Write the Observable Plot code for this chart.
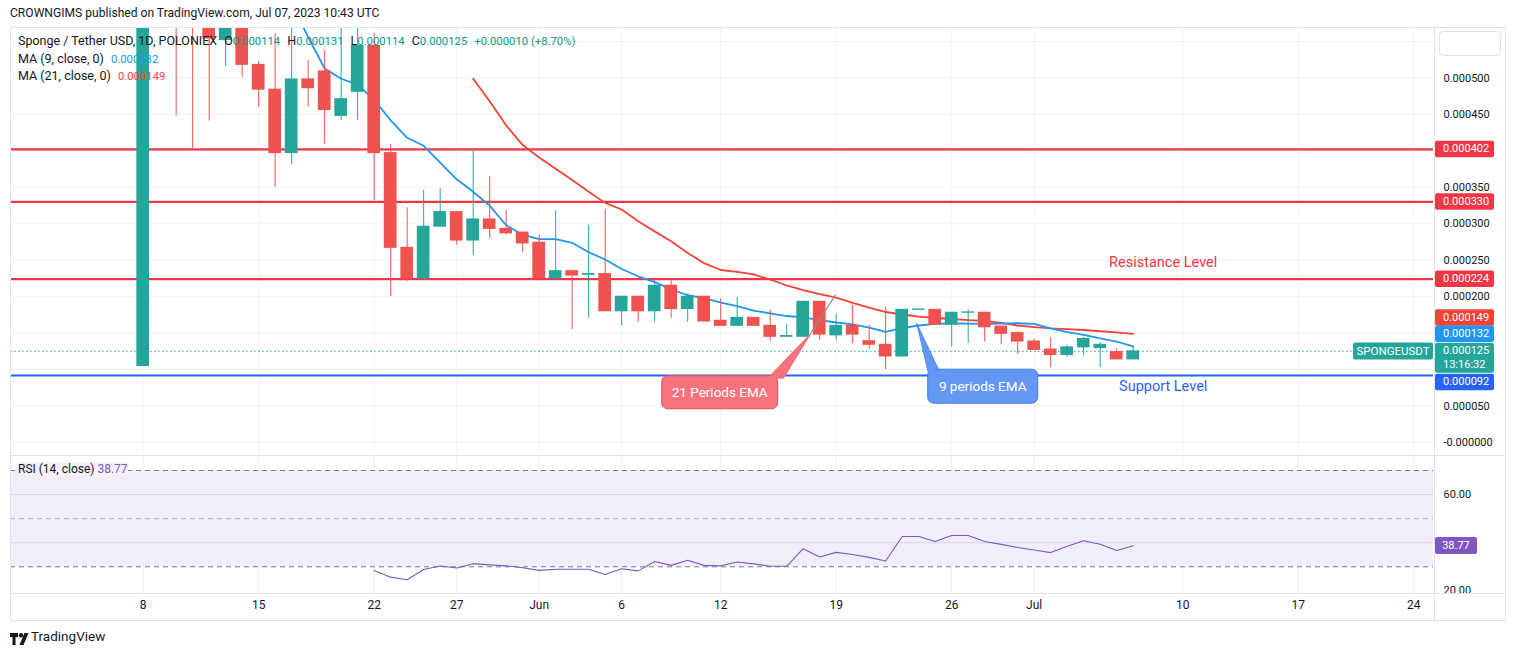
<!DOCTYPE html>
<html>
<head>
<meta charset="utf-8">
<script src="https://cdn.jsdelivr.net/npm/d3@7"></script>
<script src="https://cdn.jsdelivr.net/npm/@observablehq/plot@0.6"></script>
<style>
html,body{margin:0;padding:0;background:#fff;}
#root{position:relative;width:1515px;height:655px;overflow:hidden;font-family:Roboto,"Noto Sans",sans-serif;color:#131722;}
.abs{position:absolute;white-space:pre;}
.gap{display:inline-block;width:7px;}
.num{font-size:11.3px;}
</style>
</head>
<body>
<div id="root"></div>
<script>
// ---------------- DATA ----------------
const dates = [
"2023-05-08","2023-05-09","2023-05-10","2023-05-11","2023-05-12","2023-05-13","2023-05-14","2023-05-15","2023-05-16","2023-05-17",
"2023-05-18","2023-05-19","2023-05-20","2023-05-21","2023-05-22","2023-05-23","2023-05-24","2023-05-25","2023-05-26","2023-05-27",
"2023-05-28","2023-05-29","2023-05-30","2023-05-31","2023-06-01","2023-06-02","2023-06-03","2023-06-04","2023-06-05","2023-06-06",
"2023-06-07","2023-06-08","2023-06-09","2023-06-10","2023-06-11","2023-06-12","2023-06-13","2023-06-14","2023-06-15","2023-06-16",
"2023-06-17","2023-06-18","2023-06-19","2023-06-20","2023-06-21","2023-06-22","2023-06-23","2023-06-24","2023-06-25","2023-06-26",
"2023-06-27","2023-06-28","2023-06-29","2023-06-30","2023-07-01","2023-07-02","2023-07-03","2023-07-04","2023-07-05","2023-07-06",
"2023-07-07"];
const open = [
105e-6,700e-6,640e-6,600e-6,590e-6,552e-6,585e-6,518e-6,484e-6,397e-6,
498e-6,509e-6,448e-6,481e-6,544e-6,397e-6,267e-6,225e-6,296e-6,316e-6,
277e-6,306e-6,293e-6,288e-6,274e-6,225e-6,235e-6,230e-6,231e-6,180e-6,
200e-6,180e-6,215e-6,183e-6,200e-6,167e-6,160e-6,171e-6,160e-6,145e-6,
145e-6,193e-6,147e-6,160e-6,139e-6,134e-6,118e-6,182e-6,182e-6,161.5e-6,
178e-6,178e-6,159e-6,150e-6,138.5e-6,127.5e-6,120e-6,130.5e-6,129.5e-6,124e-6,
114e-6];
const high = [
760e-6,720e-6,660e-6,620e-6,600e-6,600e-6,595e-6,522e-6,561e-6,580e-6,
524e-6,538e-6,580e-6,580e-6,561e-6,409e-6,322e-6,346e-6,348e-6,316e-6,
400e-6,365e-6,318e-6,288e-6,285e-6,318e-6,235e-6,298e-6,320e-6,200e-6,
200e-6,222e-6,222e-6,204e-6,200e-6,197e-6,199e-6,171e-6,182e-6,162e-6,
194e-6,194e-6,176e-6,188e-6,161e-6,185e-6,182e-6,182.5e-6,182e-6,178e-6,
182e-6,178e-6,159e-6,152e-6,142e-6,143.5e-6,133.5e-6,144.5e-6,137.5e-6,128.5e-6,
131e-6];
const low = [
105e-6,600e-6,448e-6,403e-6,441e-6,516e-6,501e-6,460e-6,350e-6,381e-6,
460e-6,409e-6,442e-6,442e-6,332e-6,200e-6,221e-6,225e-6,296e-6,271e-6,
256e-6,280e-6,285e-6,261e-6,225e-6,225e-6,155e-6,170e-6,180e-6,160e-6,
165e-6,165e-6,170e-6,165e-6,166e-6,160e-6,160e-6,160e-6,139e-6,145e-6,
145e-6,140e-6,140e-6,136e-6,128e-6,100e-6,118e-6,182e-6,161e-6,131e-6,
136e-6,138e-6,134e-6,121e-6,127e-6,102.5e-6,117e-6,119e-6,102.5e-6,114e-6,
114e-6];
const close = [
740e-6,640e-6,600e-6,590e-6,554e-6,585e-6,518e-6,484e-6,397e-6,498e-6,
486e-6,456e-6,471e-6,544e-6,397e-6,267e-6,225e-6,296e-6,316e-6,277e-6,
306e-6,293e-6,287e-6,273e-6,225e-6,235e-6,229e-6,231e-6,180e-6,200e-6,
180e-6,215e-6,183e-6,200e-6,166e-6,160e-6,171e-6,160e-6,145e-6,146e-6,
193e-6,148e-6,160e-6,148e-6,134e-6,118e-6,182e-6,182.5e-6,161.5e-6,178e-6,
178.5e-6,158e-6,149e-6,138.5e-6,127e-6,120e-6,130.5e-6,142e-6,134e-6,114e-6,
125e-6];
const ma9 = [
null,null,null,null,null,null,null,null,650e-6,602e-6,
556e-6,513e-6,499e-6,491e-6,470e-6,442e-6,418e-6,407e-6,384e-6,361e-6,
344e-6,325e-6,298e-6,285e-6,279e-6,279e-6,274e-6,261e-6,251e-6,238e-6,
228e-6,220e-6,210e-6,202e-6,198e-6,192e-6,187e-6,181e-6,177e-6,173.5e-6,
171.5e-6,168e-6,164.6e-6,162e-6,157.7e-6,151.6e-6,157e-6,160.5e-6,162.8e-6,163.6e-6,
163e-6,162.8e-6,163e-6,163.6e-6,162.8e-6,156.4e-6,151.3e-6,147.5e-6,142.7e-6,138.5e-6,
132e-6];
const ma21 = [
null,null,null,null,null,null,null,null,null,null,
null,null,null,null,null,null,null,null,null,null,
499e-6,468e-6,435e-6,408e-6,391e-6,375.6e-6,360e-6,344e-6,328.7e-6,319.6e-6,
303.6e-6,289.6e-6,276e-6,260e-6,246e-6,236.6e-6,234e-6,230.5e-6,223.6e-6,215.4e-6,
209e-6,203.7e-6,198.6e-6,191.4e-6,185e-6,179e-6,175.6e-6,172.8e-6,170.8e-6,169.4e-6,
168e-6,166.7e-6,164e-6,160.5e-6,158.4e-6,156.6e-6,155.4e-6,154.3e-6,152.6e-6,151e-6,
149e-6];
const rsi = [
null,null,null,null,null,null,null,null,null,null,
null,null,null,null,28.5,25.7,24.6,28.9,30.3,29.5,
31.3,30.8,30.4,29.6,28.5,29.0,29.0,29.0,26.8,29.2,
28.3,32.2,30.6,32.7,30.6,30.4,32.0,31.2,30.2,30.2,
37.5,34.1,36.0,35.1,33.9,32.4,42.6,42.6,40.5,43.0,
43.0,40.5,39.3,38.0,37.0,35.9,38.5,40.8,39.4,36.8,
38.77];
const resistance = [402e-6, 330e-6, 224e-6];
const support = [92e-6];
const priceTicks = [500e-6,450e-6,350e-6,300e-6,250e-6,200e-6,50e-6,0];
const priceGrid = [550e-6,500e-6,450e-6,400e-6,350e-6,300e-6,250e-6,200e-6,150e-6,100e-6,50e-6,0];
const timeTicks = ["2023-05-08","2023-05-15","2023-05-22","2023-05-27","2023-06-01","2023-06-06","2023-06-12","2023-06-19","2023-06-26","2023-07-01","2023-07-10","2023-07-17","2023-07-24"];
const timeLabels = ["8","15","22","27","Jun","6","12","19","26","Jul","10","17","24"];
const rsiTicks = [60, 20];
const rsiLevels = [70, 50, 30];
const changeText = "+0.000010 (+8.70%)";
const countdown = "13:16:32";
const levelLabels = [
  {text:"Resistance Level", date:"2023-07-09", value:247e-6, color:"#f23645"},
  {text:"Support Level", date:"2023-07-09", value:77e-6, color:"#2962ff"}
];
const callouts = [
  {text:"21 Periods EMA", date:"2023-06-19", value:202e-6, fill:"#f6737e", stroke:"#e2505c"},
  {text:"9 periods EMA", date:"2023-06-24", value:163e-6, fill:"#6598f5", stroke:"#3f7ae8"}
];

// ---------------- SETUP ----------------
const G = "#26a69a", R = "#ef5350";
const parse = d3.utcParse("%Y-%m-%d");
const DAY = 864e5;
const D = dates.map(parse);
const t0 = D[0];
const xDomain = [new Date(+t0 - 8.04*DAY), new Date(+t0 + 78.2*DAY)];
const candles = D.map((d,i)=>({date:d, x1:new Date(+d-0.385*DAY), x2:new Date(+d+0.385*DAY),
  open:open[i], high:high[i], low:low[i], close:close[i], up: close[i] >= open[i]}));
const ma9Rows = D.map((d,i)=>({date:d, v:ma9[i]})).filter(r=>r.v!=null);
const ma21Rows = D.map((d,i)=>({date:d, v:ma21[i]})).filter(r=>r.v!=null);
const rsiRows = D.map((d,i)=>({date:d, v:rsi[i]})).filter(r=>r.v!=null);
const tickDates = timeTicks.map(parse);
const last = candles[candles.length-1];
const fmt6 = v => v.toFixed(6);
const FONT = "Roboto, sans-serif";
const AX = 11;

const root = document.getElementById("root");
function addDiv(style, html) {
  const d = document.createElement("div"); d.className = "abs";
  Object.assign(d.style, style); if (html != null) d.innerHTML = html;
  root.appendChild(d); return d;
}
function svgText(g, x, y, txt, size, anchor, fill) {
  return g.append("text").attr("x", x).attr("y", y).attr("text-anchor", anchor)
    .attr("dominant-baseline", "central").attr("fill", fill).attr("font-size", size)
    .attr("font-family", FONT).text(txt);
}

// header
addDiv({left:"10px", top:"6px", fontSize:"12.1px"}, "CROWNGIMS published on TradingView.com, Jul 07, 2023 10:43 UTC");

// legends (drawn over the candles, as in the reference)
const teal = "#089981";
const sp = s => `<span class="num" style="color:${teal}">${s}</span>`;
const gp = `<span class="gap"></span>`;
addDiv({left:"18px", top:"33px", fontSize:"12.5px", zIndex:3},
  `Sponge / Tether USD, 1D, POLONIEX${gp}O${sp(fmt6(last.open))}${gp}H${sp(fmt6(last.high))}${gp}L${sp(fmt6(last.low))}${gp}C${sp(fmt6(last.close))}${gp}${sp(changeText)}`);
addDiv({left:"18px", top:"51px", fontSize:"12.5px", zIndex:3},
  `MA (9, close, 0)${gp}<span class="num" style="color:#2196f3">${fmt6(ma9[60])}</span>`);
addDiv({left:"18px", top:"68px", fontSize:"12.5px", zIndex:3},
  `MA (21, close, 0)${gp}<span class="num" style="color:#f44336">${fmt6(ma21[60])}</span>`);

// ---------------- MAIN PRICE PANE ----------------
const main = Plot.plot({
  width: 1495, height: 427,
  marginLeft: 0, marginRight: 72, marginTop: 0, marginBottom: 0,
  style: {background:"transparent", fontFamily:FONT, fontSize:AX+"px", color:"#131722"},
  x: {type:"utc", domain: xDomain, axis: null},
  y: {domain: [-17.83e-6, 567.9e-6], axis: null},
  marks: [
    Plot.ruleY(priceGrid, {stroke:"#f0f3fa", strokeWidth:1}),
    Plot.ruleX(tickDates, {stroke:"#f0f3fa", strokeWidth:1}),
    Plot.ruleY([last.close], {stroke:G, strokeDasharray:"1.5,2.5", strokeWidth:1}),
    Plot.ruleY(resistance, {stroke:"#f23645", strokeWidth:2.2}),
    Plot.ruleY(support, {stroke:"#2962ff", strokeWidth:2}),
    Plot.line(ma21Rows, {x:"date", y:"v", stroke:"#f44336", strokeWidth:1.8, clip:true}),
    Plot.line(ma9Rows, {x:"date", y:"v", stroke:"#2196f3", strokeWidth:1.8, clip:true}),
    Plot.ruleX(candles, {x:"date", y1:"low", y2:"high", stroke:d=>d.up?G:R, strokeWidth:1, clip:true}),
    Plot.rect(candles, {x1:"x1", x2:"x2", y1:"open", y2:"close", fill:d=>d.up?G:R, insetTop:-0.5, insetBottom:-0.5, clip:true}),
    Plot.text(levelLabels, {x:d=>parse(d.date), y:"value", text:"text", fill:"color", fontSize:14.5, dx:-3}),
    Plot.axisY(priceTicks, {anchor:"right", tickSize:0, tickPadding:10, fontSize:AX,
      tickFormat: v => v === 0 ? "-0.000000" : v.toFixed(6)})
  ]
});
const mainWrap = addDiv({left:"10px", top:"28px", zIndex:2});
mainWrap.appendChild(main);

// overlays on main pane (through scales)
{
  const sx = main.scale("x"), sy = main.scale("y");
  const g = d3.select(main).append("g");
  // callout 21
  const c21 = callouts[0];
  let tx = sx.apply(parse(c21.date)), ty = sy.apply(c21.value);
  g.append("polygon").attr("points", [[tx-69,ty+84],[tx-52,ty+84],[tx-22,ty+35]].join(" ")).attr("fill", c21.fill);
  g.append("line").attr("x1", tx-24).attr("y1", ty+37).attr("x2", tx).attr("y2", ty).attr("stroke", "#8a8f9c").attr("stroke-width", 1.3);
  g.append("rect").attr("x", tx-174).attr("y", ty+81).attr("width", 116).attr("height", 33).attr("rx", 6)
    .attr("fill", c21.fill).attr("stroke", c21.stroke).attr("stroke-width", 1);
  g.append("polygon").attr("points", [[tx-68,ty+82.5],[tx-53,ty+82.5],[tx-45,ty+72]].join(" ")).attr("fill", c21.fill);
  svgText(g, tx-116, ty+97.5, c21.text, 13.5, "middle", "#fff");
  // callout 9
  const c9 = callouts[1];
  tx = sx.apply(parse(c9.date)) - 1.5; ty = sy.apply(c9.value);
  g.append("rect").attr("x", tx+11).attr("y", ty+46).attr("width", 110).attr("height", 34).attr("rx", 6)
    .attr("fill", c9.fill).attr("stroke", c9.stroke).attr("stroke-width", 1);
  g.append("polygon").attr("points", [[tx+11.5,ty+49],[tx+22,ty+46.5],[tx,ty]].join(" ")).attr("fill", c9.fill).attr("stroke", c9.stroke).attr("stroke-width", 0.8);
  g.append("polygon").attr("points", [[tx+12,ty+52],[tx+23,ty+47.5],[tx+12,ty+47]].join(" ")).attr("fill", c9.fill);
  svgText(g, tx+66, ty+63, c9.text, 13.5, "middle", "#fff");

  // symbol label on the last-price line
  const yLast = sy.apply(last.close);
  g.append("rect").attr("x", 1343).attr("y", yLast-8.5).attr("width", 80).attr("height", 17).attr("rx", 2).attr("fill", G);
  svgText(g, 1383, yLast, "SPONGEUSDT", 11.5, "middle", "#fff");

  // price-scale tags
  const tags = [
    {v:resistance[0], label:fmt6(resistance[0]), color:"#f23645", nudge:0},
    {v:resistance[1], label:fmt6(resistance[1]), color:"#f23645", nudge:0},
    {v:resistance[2], label:fmt6(resistance[2]), color:"#f23645", nudge:0},
    {v:ma21[60], label:fmt6(ma21[60]), color:"#f44336", nudge:-16},
    {v:ma9[60], label:fmt6(ma9[60]), color:"#2196f3", nudge:-12},
    {v:last.close, label:fmt6(last.close), color:G, nudge:0, sub:countdown},
    {v:support[0], label:fmt6(support[0]), color:"#2962ff", nudge:7}
  ];
  for (const t of tags) {
    const yc = sy.apply(t.v) + t.nudge;
    const h = t.sub ? 30 : 16.5;
    g.append("rect").attr("x", 1425).attr("y", yc-8.2).attr("width", 59).attr("height", h).attr("rx", 2).attr("fill", t.color);
    svgText(g, 1433, yc, t.label, AX, "start", "#fff");
    if (t.sub) svgText(g, 1433, yc+14, t.sub, AX, "start", "#fff");
  }
}

// ---------------- RSI PANE ----------------
const rsiPlot = Plot.plot({
  width: 1495, height: 165,
  marginLeft: 0, marginRight: 72, marginTop: 0, marginBottom: 27,
  style: {background:"transparent", fontFamily:FONT, fontSize:"12px", color:"#131722"},
  x: {type:"utc", domain: xDomain, axis: null},
  y: {domain: [18.91, 76.23], axis: null},
  marks: [
    Plot.rect([{x1:xDomain[0], x2:xDomain[1], y1:30, y2:70}], {x1:"x1", x2:"x2", y1:"y1", y2:"y2", fill:"#7e57c2", fillOpacity:0.1}),
    Plot.ruleY([60, 40], {stroke:"#d9d3ea", strokeWidth:1}),
    Plot.ruleX(tickDates, {stroke:"#eceef4", strokeWidth:1}),
    Plot.ruleY([rsiLevels[0], rsiLevels[2]], {stroke:"#787b86", strokeDasharray:"5,4", strokeWidth:1}),
    Plot.ruleY([rsiLevels[1]], {stroke:"#787b86", strokeOpacity:0.55, strokeDasharray:"5,4", strokeWidth:1}),
    Plot.line(rsiRows, {x:"date", y:"v", stroke:"#7e57c2", strokeWidth:1.1}),
    Plot.axisY(rsiTicks, {anchor:"right", tickSize:0, tickPadding:10, fontSize:AX, tickFormat: v => v.toFixed(2)}),
    Plot.axisX(tickDates, {anchor:"bottom", tickSize:0, tickPadding:7, fontSize:12,
      tickFormat: d => timeLabels[tickDates.findIndex(t => +t === +d)]})
  ]
});
const rsiWrap = addDiv({left:"10px", top:"455px", zIndex:2});
rsiWrap.appendChild(rsiPlot);
{
  const sy = rsiPlot.scale("y");
  const g = d3.select(rsiPlot).append("g");
  const yc = sy.apply(rsi[60]);
  g.append("rect").attr("x", 1425).attr("y", yc-8.3).attr("width", 42).attr("height", 17).attr("rx", 2).attr("fill", "#7e57c2");
  svgText(g, 1446, yc, rsi[60].toFixed(2), AX, "middle", "#fff");
}
addDiv({left:"18px", top:"462px", fontSize:"12px", zIndex:3},
  `<span style="background:#f4f1fa">RSI (14, close) <span style="color:#7e57c2">${rsi[60].toFixed(2)}</span></span>`);

// ---------------- FRAME ----------------
const bc = "#e0e3eb";
addDiv({left:"10px", top:"27px", width:"1494px", height:"592px", border:`1px solid ${bc}`, zIndex:4, pointerEvents:"none"});
addDiv({left:"10px", top:"455px", width:"1495px", height:"1px", background:bc, zIndex:4});
addDiv({left:"10px", top:"593px", width:"1495px", height:"1px", background:bc, zIndex:4});
addDiv({left:"1434px", top:"27px", width:"1px", height:"593px", background:bc, zIndex:4});
addDiv({left:"1439px", top:"31px", width:"60px", height:"23px", border:`1px solid ${bc}`, borderRadius:"4px", background:"#fff", zIndex:5});

// footer logo
addDiv({left:"10px", top:"630px", zIndex:5},
  `<svg width="20" height="12" viewBox="0 0 20 12"><path d="M0 0h8v4H5.5v8H2.5V4H0z" fill="#131722"/><circle cx="11" cy="2.2" r="2.2" fill="#131722"/><path d="M14.5 0h4L13.5 12h-4z" fill="#131722"/></svg>`);
addDiv({left:"31px", top:"628px", fontSize:"13.5px", color:"#131722"}, "TradingView");
</script>
</body>
</html>
